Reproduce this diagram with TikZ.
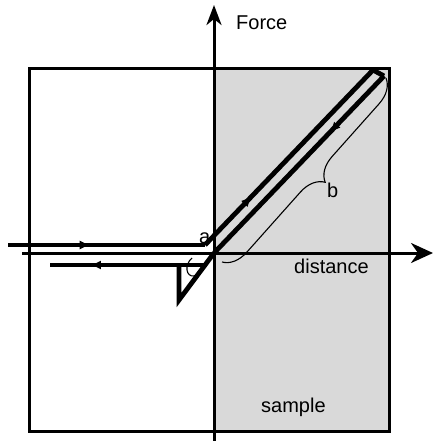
\documentclass[tikz,border=0pt]{standalone}
\usepackage{fontspec}
\setmainfont{Liberation Sans}
\usetikzlibrary{arrows.meta,decorations.markings,decorations.pathreplacing}
\begin{document}
\begin{tikzpicture}[x=1pt,y=-1pt,
  frame/.style={line width=3pt},
  axis/.style={line width=3pt,-{Stealth[length=22pt,width=20pt,inset=7pt]}},
  vaxis/.style={line width=3pt,-{Stealth[length=20pt,width=15pt,inset=6pt]}},
  curve/.style={line width=4.8pt,line join=miter,line cap=butt},
  midarrow/.style={postaction={decorate},decoration={markings,mark=at position #1 with {\arrow{Latex[length=11pt,width=9pt]}}}},
  thin/.style={line width=1.1pt},
  lbl/.style={font=\fontsize{20}{24}\selectfont,inner sep=0pt}]
\useasboundingbox (0,0) rectangle (434,441);
% shaded sample region
\fill[fill={rgb,255:red,217;green,217;blue,217}] (214,69) rectangle (389,431);
\draw[frame] (29,69) rectangle (389,431);
% axes
\coordinate (yb) at (214,441);
\coordinate (yt) at (214,5);
\coordinate (xl) at (22,253);
\coordinate (xr) at (433,253);
\draw[vaxis] (yb) -- (yt);
\draw[axis] (xl) -- (xr);
% labels
\node[lbl,anchor=base west] (force) at (236,30) {Force};
\node[lbl,anchor=base west] (dist) at (294,273) {distance};
\node[lbl,anchor=base west] (samp) at (261,412) {sample};
\node[lbl,anchor=base west] (la) at (199,243) {a};
\node[lbl,anchor=base west] (lb) at (327,197) {b};
% approach curve
\coordinate (a0) at (8,245);
\coordinate (a1) at (205,245);
\coordinate (t1) at (373,70);
\coordinate (t2) at (384,76);
\coordinate (o) at (214,253);
\coordinate (bt) at (179,300);
\coordinate (bv) at (179,265);
\coordinate (r0) at (50,265);
\coordinate (tr) at (206,265);
\draw[curve,midarrow=0.42] (a0) -- (a1);
\draw[curve,midarrow=0.28] (a1) -- (t1);
\draw[curve] (t1) -- (t2);
\draw[curve,midarrow=0.32] (t2) -- (o);
\draw[curve] (o) -- (bt) -- (bv);
\draw[curve,midarrow=0.69] (bv) -- (r0);
\draw[curve] (bv) -- (tr);
% a bracket
\coordinate (ca) at (192,258);
\coordinate (cb) at (194,276);
\coordinate (cc) at (207,262);
\draw[thin] (ca) .. controls (184,265) and (186,277) .. (cb) .. controls (199,275) and (200,268) .. (cc);
% b brace
\coordinate (bs) at (386,78);
\coordinate (be) at (222,262);
\draw[thin,decorate,decoration={brace,amplitude=24pt,aspect=0.48}] (bs) -- (be);
\end{tikzpicture}
\end{document}
